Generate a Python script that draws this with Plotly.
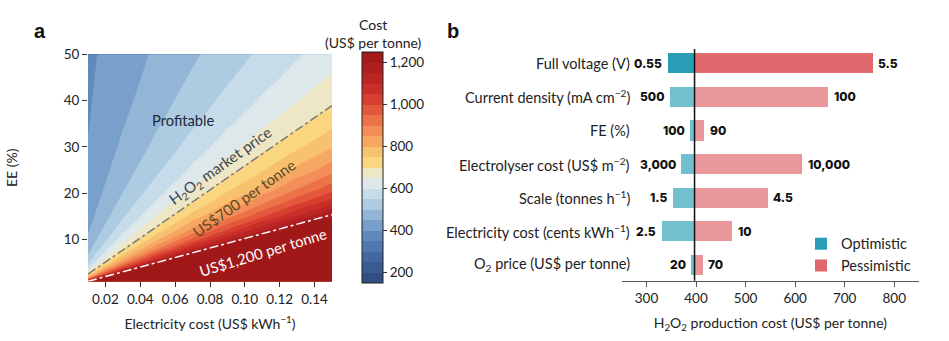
import plotly.graph_objects as go

# ---------------- Panel a data ----------------
elec_cost = [0.01, 0.03, 0.05, 0.07, 0.09, 0.11, 0.13, 0.15]   # US$ per kWh
ee_pct = [1, 1.5, 2, 3, 4, 5, 6, 8, 10, 12, 15, 18, 21, 25, 30, 35, 40, 45, 50]  # EE (%)
# production cost (US$ per tonne); rows follow ee_pct, columns follow elec_cost
cost_grid = [
    [1220, 2912, 4604, 6296, 7988, 9680, 11372, 13064],
    [938, 2066, 3194, 4322, 5450, 6578, 7706, 8834],
    [797, 1643, 2489, 3335, 4181, 5027, 5873, 6719],
    [656, 1220, 1784, 2348, 2912, 3476, 4040, 4604],
    [586, 1009, 1432, 1855, 2278, 2701, 3124, 3547],
    [543, 882, 1220, 1558, 1897, 2235, 2574, 2912],
    [515, 797, 1079, 1361, 1643, 1925, 2207, 2489],
    [480, 691, 903, 1114, 1326, 1537, 1749, 1960],
    [459, 628, 797, 966, 1135, 1305, 1474, 1643],
    [445, 586, 727, 868, 1009, 1150, 1291, 1432],
    [430, 543, 656, 769, 882, 994, 1107, 1220],
    [421, 515, 609, 703, 797, 891, 985, 1079],
    [414, 495, 575, 656, 737, 817, 898, 978],
    [408, 476, 543, 611, 679, 746, 814, 882],
    [402, 459, 515, 571, 628, 684, 741, 797],
    [398, 447, 495, 543, 592, 640, 688, 737],
    [395, 437, 480, 522, 564, 607, 649, 691],
    [393, 430, 468, 506, 543, 581, 618, 656],
    [391, 425, 459, 492, 526, 560, 594, 628],
]
line_x = [0.01, 0.15]
market_line_ee = [2.59, 38.9]     # US$700 per tonne (H2O2 market price)
high_line_ee = [1.02, 15.4]       # US$1,200 per tonne
cbar_ticks = [200, 400, 600, 800, 1000, 1200]
cbar_ticktext = ["200", "400", "600", "800", "1,000", "1,200"]
xa_ticks = [0.02, 0.04, 0.06, 0.08, 0.10, 0.12, 0.14]
ya_ticks = [10, 20, 30, 40, 50]

# ---------------- Panel b data ----------------
params = [
    "Full voltage (V)",
    "Current density (mA cm<sup>\u22122</sup>)",
    "FE (%)",
    "Electrolyser cost (US$ m<sup>\u22122</sup>)",
    "Scale (tonnes h<sup>\u22121</sup>)",
    "Electricity cost (cents kWh<sup>\u22121</sup>)",
    "O<sub>2</sub> price (US$ per tonne)",
]
opt_labels = ["0.55", "500", "100", "3,000", "1.5", "2.5", "20"]
pes_labels = ["5.5", "100", "90", "10,000", "4.5", "10", "70"]
opt_cost = [342, 346, 387, 370, 352, 330, 389]
pes_cost = [756, 666, 416, 613, 544, 472, 413]
baseline = 397
xb_ticks = [300, 400, 500, 600, 700, 800]

# ---------------- styles ----------------
FONT = "Lato"
NUMFONT = "Inter"
TXT = "#222222"
band_colors = [
    "#2d4a7c", "#35558a", "#3e6299", "#4a72a9", "#5a83b8", "#739bc6",
    "#8db1d4", "#a9c9e1", "#c4dbea", "#dde7ec", "#eee7c8", "#fad67f",
    "#f8bf6e", "#f6a560", "#f38a56", "#ec6c45", "#e0523a", "#d2352b",
    "#c42a26", "#b52222", "#a81c1c", "#a01818",
]
n = len(band_colors)
colorscale = [[i / (n - 1), c] for i, c in enumerate(band_colors)]
opt_colors = ["#2b9cb5"] + ["#72c0cf"] * (len(params) - 1)
pes_colors = ["#e0696e"] + ["#e9979b"] * (len(params) - 1)

W, H = 949, 341
def px_x(p): return p / W
def px_y(p): return 1 - p / H

fig = go.Figure()

fig.add_trace(go.Contour(
    x=elec_cost, y=ee_pct, z=cost_grid,
    zmin=150, zmax=1250, autocontour=False,
    contours=dict(start=150, end=1250, size=50, coloring="fill", showlines=False),
    line=dict(width=0),
    colorscale=colorscale,
    xaxis="x", yaxis="y",
    colorbar=dict(
        x=px_x(362), xanchor="left", xpad=0,
        y=px_y(163.5), yanchor="middle", ypad=0,
        len=231, lenmode="pixels", thickness=21,
        outlinewidth=1, outlinecolor="#222",
        tickvals=cbar_ticks, ticktext=cbar_ticktext,
        ticks="outside", ticklen=4, tickcolor="#333",
        tickfont=dict(family=FONT, size=13.5, color=TXT),
    ),
    showlegend=False, hoverinfo="skip",
))

fig.add_trace(go.Scatter(
    x=line_x, y=market_line_ee, mode="lines",
    line=dict(color="#7a7a7a", width=1.5, dash="dashdot"),
    xaxis="x", yaxis="y", showlegend=False, hoverinfo="skip",
))
fig.add_trace(go.Scatter(
    x=line_x, y=high_line_ee, mode="lines",
    line=dict(color="#ffffff", width=1.5, dash="dashdot"),
    xaxis="x", yaxis="y", showlegend=False, hoverinfo="skip",
))

# panel b bars
ypos = list(range(len(params)))
fig.add_trace(go.Bar(
    y=ypos, x=[baseline - v for v in opt_cost], base=opt_cost,
    orientation="h", width=0.6, marker=dict(color=opt_colors, line=dict(width=0)),
    name="Optimistic", xaxis="x2", yaxis="y2", hoverinfo="skip",
))
fig.add_trace(go.Bar(
    y=ypos, x=[v - baseline for v in pes_cost], base=baseline,
    orientation="h", width=0.6, marker=dict(color=pes_colors, line=dict(width=0)),
    name="Pessimistic", xaxis="x2", yaxis="y2", hoverinfo="skip",
))

num_font = dict(family=NUMFONT, size=12, color="#111", weight=800)
ann = []
for i, p in enumerate(params):
    ann.append(dict(x=px_x(632), xref="paper", y=i, yref="y2", text=p,
                    xanchor="right", yanchor="middle", showarrow=False,
                    font=dict(family=FONT, size=14.5, color=TXT)))
    ann.append(dict(x=opt_cost[i], xref="x2", y=i, yref="y2", text=opt_labels[i],
                    xanchor="right", yanchor="middle", xshift=-3, showarrow=False,
                    font=num_font))
    ann.append(dict(x=pes_cost[i], xref="x2", y=i, yref="y2", text=pes_labels[i],
                    xanchor="left", yanchor="middle", xshift=4, showarrow=False,
                    font=num_font))

# panel a in-plot labels
ann += [
    dict(x=0.0646, y=35.9, xref="x", yref="y", text="Profitable", showarrow=False,
         font=dict(family=FONT, size=14.7, color="#1e2a3a")),
    dict(x=0.0862, y=25.8, xref="x", yref="y", text="H<sub>2</sub>O<sub>2</sub> market price",
         showarrow=False, textangle=-35.5, font=dict(family=FONT, size=15, color="#3b4656")),
    dict(x=0.0994, y=19.0, xref="x", yref="y", text="US$700 per tonne", showarrow=False,
         textangle=-35.5, font=dict(family=FONT, size=15, color="#5a4a22")),
    dict(x=0.1104, y=7.3, xref="x", yref="y", text="US$1,200 per tonne", showarrow=False,
         textangle=-17, font=dict(family=FONT, size=14.8, color="#ffffff")),
    # panel letters
    dict(x=px_x(40), y=px_y(24), xref="paper", yref="paper", text="<b>a</b>", showarrow=False,
         xanchor="center", yanchor="middle",
         font=dict(family="Liberation Sans", size=20, color="#111")),
    dict(x=px_x(453), y=px_y(24), xref="paper", yref="paper", text="<b>b</b>", showarrow=False,
         xanchor="center", yanchor="middle",
         font=dict(family="Liberation Sans", size=20, color="#111")),
    # colorbar title
    dict(x=px_x(373), y=px_y(26), xref="paper", yref="paper", xanchor="center", yanchor="middle",
         text="Cost<br>(US$ per tonne)", showarrow=False, align="center",
         font=dict(family=FONT, size=14, color=TXT)),
]

fig.add_shape(type="line", x0=baseline, x1=baseline, xref="x2", y0=0, y1=1, yref="y2 domain",
              line=dict(color="#111", width=1.5))

axis_font = dict(family=FONT, size=13.5, color=TXT)
title_font = dict(family=FONT, size=14, color=TXT)
fig.update_layout(
    width=W, height=H, margin=dict(l=0, r=0, t=0, b=0),
    paper_bgcolor="white", plot_bgcolor="white",
    font=dict(family=FONT, color=TXT),
    barmode="overlay", bargap=0,
    xaxis=dict(domain=[px_x(88), px_x(332)], anchor="y", range=[0.01, 0.15],
               tickvals=xa_ticks, tickformat=".2f", ticks="outside", ticklen=5,
               tickcolor="#333", showgrid=False, zeroline=False, showline=False,
               tickfont=axis_font,
               title=dict(text="Electricity cost (US$ kWh<sup>\u22121</sup>)",
                          font=title_font, standoff=13)),
    yaxis=dict(domain=[px_y(280), px_y(47.3)], anchor="x", range=[1, 50],
               tickvals=ya_ticks, ticks="outside", ticklen=5, tickcolor="#333",
               showgrid=False, zeroline=False, showline=False, tickfont=axis_font,
               title=dict(text="EE (%)", font=title_font, standoff=42)),
    xaxis2=dict(domain=[px_x(621.7), px_x(919)], anchor="y2", range=[250, 850],
                tickvals=xb_ticks, ticks="outside", ticklen=5, tickcolor="#555",
                showline=True, linecolor="#555", linewidth=1.2,
                showgrid=False, zeroline=False, tickfont=axis_font,
                title=dict(text="H<sub>2</sub>O<sub>2</sub> production cost (US$ per tonne)",
                           font=title_font, standoff=13)),
    yaxis2=dict(domain=[px_y(279.3), px_y(42)], anchor="x2", range=[6.48, -0.43],
                visible=False, showgrid=False, zeroline=False),
    legend=dict(x=px_x(801), y=px_y(225), xanchor="left", yanchor="top",
                font=dict(family=FONT, size=14.5, color=TXT), bgcolor="rgba(0,0,0,0)",
                tracegroupgap=0, itemwidth=30),
    annotations=ann,
)

fig.write_html("out.html")
